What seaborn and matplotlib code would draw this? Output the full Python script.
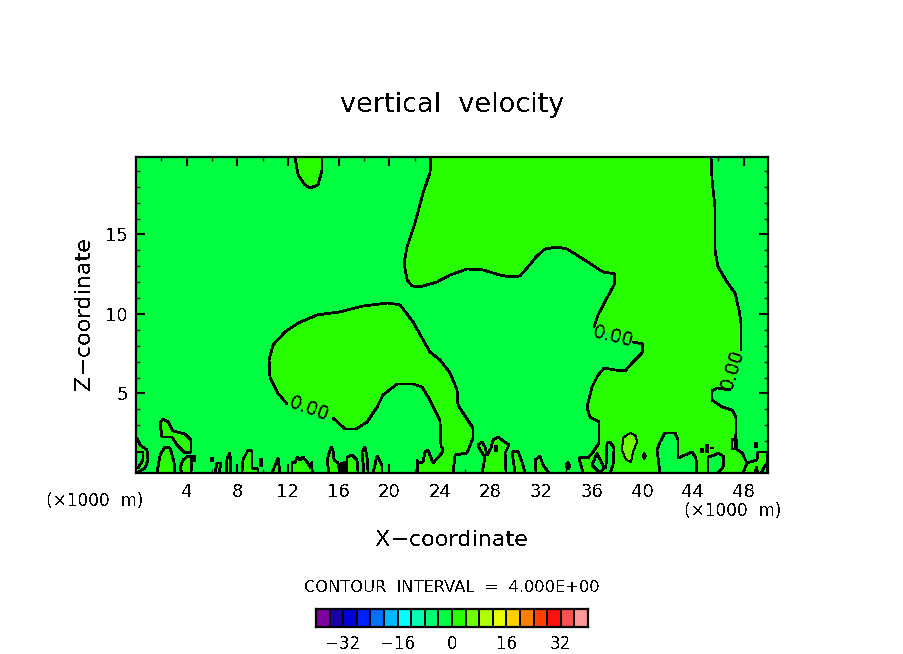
import matplotlib
matplotlib.use('Agg')
import matplotlib.pyplot as plt
from matplotlib.colors import ListedColormap
import numpy as np
import seaborn as sns

# contour outlines, x in 1000 m, z in 1000 m
warm_left_x = [23.30, 23.22, 22.67, 22.04, 21.41, 21.17, 21.41, 21.80, 22.43, 23.78, 24.80, 26.15, 27.41, 28.75, 29.54,
               30.33, 30.96, 31.67, 32.31, 33.25, 34.04, 35.07, 36.26, 36.89, 37.84, 37.76, 37.20, 36.49, 36.18]
warm_left_z = [19.87, 18.87, 17.61, 15.72, 14.21, 13.21, 12.14, 11.76, 11.70, 12.01, 12.45, 12.83, 12.77, 12.45, 12.33,
               12.39, 12.96, 13.65, 14.09, 14.21, 14.09, 13.58, 12.96, 12.64, 12.52, 11.82, 11.01, 9.94, 9.18]
warm_low_x = [39.26, 40.05, 39.97, 39.26, 38.63, 37.84, 36.97, 36.49, 36.02, 35.62, 35.86, 36.57, 36.57, 36.10, 35.70,
              35.31, 34.99, 35.31]
warm_low_z = [8.24, 8.11, 7.55, 6.98, 6.42, 6.48, 6.60, 6.16, 5.41, 4.15, 3.52, 3.21, 1.89, 1.32, 0.94, 1.01, 0.94, 0]
warm_right_low_x = [47.95, 48.26, 47.87, 47.31, 47.39, 47.39, 47.08, 46.29, 45.50, 45.50, 45.89, 46.92]
warm_right_low_z = [0, 0.63, 1.26, 1.57, 2.52, 3.52, 3.96, 4.15, 4.59, 5.16, 5.35, 5.22]
warm_right_top_x = [47.79, 47.79, 47.63, 47.31, 46.68, 45.97, 45.73, 45.73, 45.50, 45.42]
warm_right_top_z = [7.74, 9.43, 10.25, 11.32, 12.01, 12.96, 14.03, 16.73, 18.43, 19.87]

blob_inner_x = [15.56, 16.51, 17.38, 18.25, 19.04, 19.51, 20.62, 21.88, 22.59, 23.22, 24.01, 24.09, 24.25, 24.17, 23.46,
                23.06, 22.83, 22.67, 22.27, 22.20, 22.27]
blob_inner_z = [3.46, 2.77, 2.77, 3.21, 4.15, 4.91, 5.60, 5.60, 5.41, 4.59, 3.33, 1.64, 1.57, 1.26, 0.63,
                1.45, 1.32, 0.69, 0.63, 0.82, 0]
blob_outer_x = [25.04, 25.20, 26.15, 26.62, 26.62, 25.83, 25.43, 25.36, 24.80, 24.01, 23.22, 22.59, 21.88, 20.85, 19.91,
                17.93, 16.11, 14.30, 12.80, 11.77, 10.82, 10.51, 10.58, 11.14, 11.93]
blob_outer_z = [0, 1.13, 1.26, 2.20, 2.83, 3.77, 4.28, 5.22, 6.29, 7.11, 7.61, 8.49, 9.50, 10.57, 10.69,
                10.50, 10.13, 9.94, 9.43, 8.87, 8.05, 7.11, 6.04, 5.09, 4.34]

top_x = [12.56, 12.80, 13.35, 13.74, 14.38, 14.69, 14.69]
top_z = [19.87, 18.74, 18.11, 17.92, 18.11, 19.06, 19.87]

# small cells near the ground, value 0 to 4
warm_cells = [
    ([1.90, 2.13, 2.53, 2.92, 3.87, 4.34, 4.34, 3.87, 3.24, 2.84, 2.05, 1.90],
     [3.14, 3.40, 3.21, 2.64, 2.45, 2.08, 1.32, 1.26, 1.76, 2.26, 2.26, 3.14]),
    ([0, 0.08, 0.32, 0.87, 0.95, 0.71, 0.08, 0], [2.20, 2.20, 1.76, 1.45, 0.82, 0.31, 0, 0]),
    ([1.66, 1.90, 2.29, 2.69, 3.00, 3.08], [0, 1.13, 1.64, 1.57, 0.69, 0]),
    ([3.63, 3.48, 3.71, 4.11, 4.42, 4.34], [0, 0.31, 0.82, 1.07, 1.01, 0]),
    ([6.24, 6.40, 6.71, 6.56], [0, 0.63, 0.63, 0]),
    ([7.11, 7.19, 7.42, 7.50], [0, 0.94, 1.26, 0]),
    ([8.37, 8.45, 8.85, 9.16, 9.16, 9.64, 9.64], [0, 0.82, 1.45, 1.38, 0.31, 0.25, 0]),
    ([10.74, 11.22, 11.37], [0, 0.94, 0]),
    ([12.32, 12.32, 12.56, 12.72, 12.95, 13.19, 13.51, 13.82, 13.90, 13.90],
     [0, 0.69, 0.63, 1.01, 0.82, 1.01, 0.69, 0.31, 0.69, 0]),
    ([15.24, 15.09, 15.40, 15.56, 15.64, 15.96, 16.11], [0, 0.82, 1.64, 1.45, 0.82, 0.63, 0]),
    ([16.67, 16.67, 17.06, 17.46, 17.54], [0, 1.01, 1.13, 0.82, 0]),
    ([18.01, 17.85, 18.09, 18.25, 18.33], [0, 1.32, 1.64, 1.01, 0]),
    ([18.72, 19.04, 19.43, 19.43], [0, 1.07, 0.50, 0]),
    ([27.33, 27.57, 27.17, 27.01, 27.33, 27.57, 27.73, 28.04, 28.20, 28.59, 29.46, 29.15, 29.23],
     [0, 1.01, 1.45, 1.76, 1.95, 1.64, 1.13, 1.57, 2.08, 2.26, 1.76, 1.26, 0]),
    ([29.94, 29.70, 30.17, 30.49, 30.73], [0, 1.32, 1.38, 0.69, 0]),
    ([31.60, 31.52, 31.91, 32.15, 32.62], [0, 0.82, 1.07, 0.50, 0]),
    ([34.12, 34.28, 34.12, 33.96, 34.12], [0.69, 0.44, 0.25, 0.44, 0.69]),
    ([47.95, 48.26, 49.05, 49.13, 49.84, 49.84], [0, 0.63, 0.82, 1.32, 1.32, 0]),
]

# value below 0, sitting inside the warm area
cold_cells = [
    ([0.08, 0.55, 0.55, 0.16], [1.32, 1.32, 0.82, 0.31]),
    ([36.02, 36.41, 36.97, 36.65, 36.02], [0.50, 1.26, 0.31, 0, 0.50]),
    ([37.12, 37.20, 37.44, 37.76, 37.68, 37.44], [0.31, 1.89, 1.95, 1.57, 0.50, 0]),
    ([41.39, 41.15, 41.39, 41.78, 42.58, 42.81, 42.81, 43.36, 43.92, 44.23, 44.31],
     [0, 1.45, 1.95, 2.52, 2.52, 2.08, 0.94, 1.13, 1.32, 0.94, 0]),
    ([45.18, 45.18, 45.73, 45.97, 46.45, 46.37, 45.97], [0, 1.01, 1.13, 1.26, 1.01, 0.38, 0]),
    ([47.08, 47.08, 47.39, 47.47, 47.08], [1.51, 2.08, 2.20, 1.51, 1.51]),
    ([49.38, 49.70, 49.84, 49.84], [0, 0.50, 0.60, 0]),
    ([48.90, 49.00, 49.10], [0, 0.35, 0]),
]

# the 4 to 8 patch, thin contour
hot_x = [39.02, 39.49, 39.57, 39.26, 39.10, 38.70, 38.39, 38.47, 39.02]
hot_z = [2.52, 2.33, 1.95, 1.32, 0.69, 0.82, 1.45, 2.20, 2.52]
loop_x = [40.13, 40.28, 40.13, 40.05, 40.13]
loop_z = [1.26, 1.07, 0.88, 1.07, 1.26]

# tiny contours that only show as short dashes
dash_x = [4.58, 6.00, 9.87, 16.25, 16.50, 28.44, 44.71, 45.10, 45.50, 48.97]
dash_lo = [0.69, 0.69, 0.38, 0, 0, 1.32, 1.26, 1.26, 1.50, 1.57]
dash_hi = [1.13, 1.00, 0.94, 0.70, 0.75, 1.76, 1.57, 1.83, 1.62, 1.95]

x_ticks = [4, 8, 12, 16, 20, 24, 28, 32, 36, 40, 44, 48]
z_ticks = [5, 10, 15]

levels = [-38, -34, -30, -26, -22, -18, -14, -10, -6, -2, 2, 6, 10, 14, 18, 22, 26, 30, 34, 38]
level_colors = ['#8000a0', '#1a00a8', '#0000d8', '#0020ff', '#0070ff', '#00b8ff', '#00ffff', '#00ffb0', '#00ff70',
                '#00ff40', '#28ff00', '#70ff00', '#b0ff00', '#e8ff00', '#ffd000', '#ff8000', '#ff4000', '#ff1010',
                '#ff5050', '#ff9898']
bar_ticks = [-32, -16, 0, 16, 32]

sns.set_style('white')
plt.rcParams['font.family'] = ['DejaVu Sans']
plt.rcParams['text.antialiased'] = False
plt.rcParams['text.color'] = 'black'
plt.rcParams['xtick.labelcolor'] = 'black'
plt.rcParams['ytick.labelcolor'] = 'black'

W, H = 904, 654
fig = plt.figure(figsize=(W / 100, H / 100), dpi=100)
ax = fig.add_axes([136 / W, 1 - 473 / H, (768 - 136) / W, (473 - 157) / H])
ax.set_facecolor('#00ff40')


def contour(xs, zs, lw=1.25):
    sns.lineplot(x=xs, y=zs, sort=False, estimator=None, color='black', linewidth=lw, ax=ax, legend=False,
                 antialiased=False, zorder=4)


# filled areas first
ax.fill(warm_left_x + warm_low_x + warm_right_low_x + warm_right_top_x,
        warm_left_z + warm_low_z + warm_right_low_z + warm_right_top_z,
        color='#28ff00', lw=0, antialiased=False, zorder=1)
ax.fill(blob_inner_x + blob_outer_x, blob_inner_z + blob_outer_z, color='#28ff00', lw=0, antialiased=False, zorder=1)
ax.fill(top_x, top_z, color='#28ff00', lw=0, antialiased=False, zorder=1)
for xs, zs in warm_cells:
    ax.fill(xs, zs, color='#28ff00', lw=0, antialiased=False, zorder=1)
for xs, zs in cold_cells:
    ax.fill(xs, zs, color='#00ff40', lw=0, antialiased=False, zorder=2)
ax.fill(hot_x, hot_z, color='#70ff00', lw=0, antialiased=False, zorder=2)

# contour lines on top
for xs, zs in [(warm_left_x, warm_left_z), (warm_low_x, warm_low_z), (warm_right_low_x, warm_right_low_z),
               (warm_right_top_x, warm_right_top_z), (blob_inner_x, blob_inner_z), (blob_outer_x, blob_outer_z),
               (top_x, top_z)]:
    contour(xs, zs)
for xs, zs in warm_cells + cold_cells:
    contour(xs, zs)
contour(hot_x, hot_z, lw=0.7)
contour(loop_x, loop_z, lw=0.7)
ax.vlines(dash_x, dash_lo, dash_hi, color='black', lw=1.6, antialiased=False, zorder=4)

# inline labels of the zero contour
ax.text(13.65, 4.0, '0.00', fontsize=13.5, rotation=-20, ha='center', va='center', zorder=5)
ax.text(37.7, 8.6, '0.00', fontsize=13.5, rotation=-14, ha='center', va='center', zorder=5)
ax.text(47.1, 6.5, '0.00', fontsize=13.5, rotation=73, ha='center', va='center', zorder=5)

ax.set_xlim(0, 49.92)
ax.set_ylim(0, 19.87)
ax.set_xticks(x_ticks)
ax.set_yticks(z_ticks)
ax.set_xticks(np.arange(2, 50, 4), minor=True)
ax.set_yticks([v for v in range(1, 20) if v % 5 != 0], minor=True)
ax.tick_params(which='major', direction='in', length=6.5, width=1.5, top=True, right=True, bottom=True, left=True,
               labelsize=13, pad=7, color='black')
ax.tick_params(which='minor', direction='in', length=3, width=1, top=True, right=True, bottom=True, left=True)
ax.tick_params(axis='y', which='major', pad=6)
for spine in ax.spines.values():
    spine.set_linewidth(1.6)
    spine.set_color('black')
    spine.set_zorder(6)

fig.text(452 / W, 1 - 105 / H, 'vertical  velocity', fontsize=19.5, ha='center', va='center')
fig.text(452 / W, 1 - 540 / H, 'X\u2212coordinate', fontsize=16, ha='center', va='center')
fig.text(84 / W, 1 - 314 / H, 'Z\u2212coordinate', fontsize=16, rotation=90, ha='center', va='center')
fig.text(95 / W, 1 - 501 / H, '(\u00d71000  m)', fontsize=12.2, ha='center', va='center')
fig.text(733 / W, 1 - 511 / H, '(\u00d71000  m)', fontsize=12.2, ha='center', va='center')
fig.text(452 / W, 1 - 587 / H, 'CONTOUR  INTERVAL  =  4.000E+00', fontsize=11.7, ha='center', va='center')

# colour key
cax = fig.add_axes([316 / W, 1 - 627 / H, (588 - 316) / W, 18 / H])
sns.heatmap([levels], cmap=ListedColormap(level_colors), vmin=-40, vmax=40, cbar=False, linewidths=1.4,
            linecolor='black', ax=cax, xticklabels=False, yticklabels=False)
cax.set_xticks([(v + 40) / 4 for v in bar_ticks])
cax.set_xticklabels([str(v).replace('-', '\u2212') for v in bar_ticks], rotation=0, fontsize=12)
cax.set_yticks([])
cax.tick_params(axis='x', length=0, pad=6)
for spine in cax.spines.values():
    spine.set_visible(True)
    spine.set_linewidth(1.6)
    spine.set_color('black')

fig.savefig('out.png', dpi=100)
